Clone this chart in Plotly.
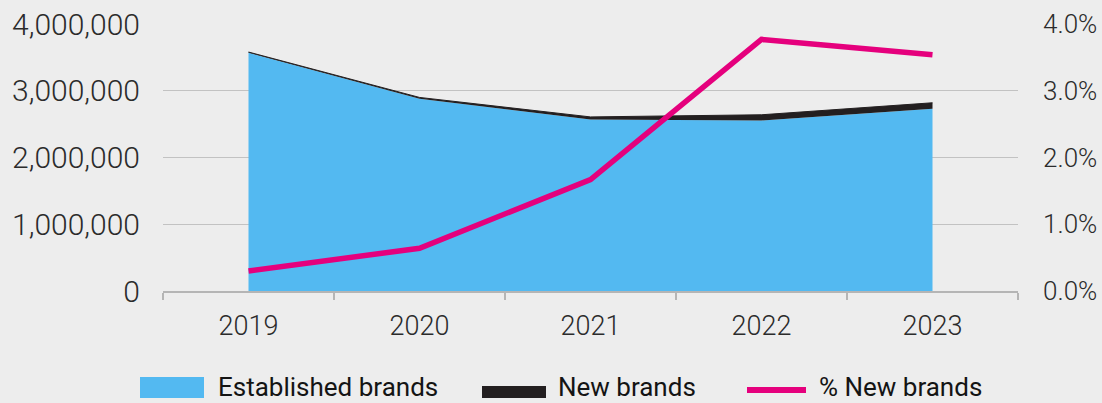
import plotly.graph_objects as go

years = ["2019", "2020", "2021", "2022", "2023"]
established = [3569000, 2881000, 2568000, 2555000, 2730000]
new_brands = [11000, 19000, 40000, 85000, 90000]
pct_new = [0.0030, 0.0064, 0.0167, 0.0377, 0.0354]

left_ticks = [0, 1000000, 2000000, 3000000, 4000000]
left_labels = ["0", "1,000,000", "2,000,000", "3,000,000", "4,000,000"]
right_ticks = [0, 0.01, 0.02, 0.03, 0.04]
right_labels = ["0.0%", "1.0%", "2.0%", "3.0%", "4.0%"]
legend_names = ["Established brands", "New brands", "% New brands"]

BLUE = "#53b9f1"
BLACK = "#231f20"
MAGENTA = "#e5007d"
BG = "#ededed"
GRID = "#c2c2c2"
TXT = "#2b2b2b"
FONT = "Roboto"

W, H = 1102, 403
ML, MR, MT, MB = 163, 84, 24, 112
PW, PH = W - ML - MR, H - MT - MB


def px_x(x):
    return (x - ML) / PW


def px_y(y):
    return (H - MB - y) / PH


fig = go.Figure()
fig.add_trace(go.Scatter(x=years, y=established, stackgroup="s", mode="lines",
                         line=dict(width=0, color=BLUE), fillcolor=BLUE,
                         showlegend=False, name=legend_names[0]))
fig.add_trace(go.Scatter(x=years, y=new_brands, stackgroup="s", mode="lines",
                         line=dict(width=1, color=BLACK), fillcolor=BLACK,
                         showlegend=False, name=legend_names[1]))
fig.add_trace(go.Scatter(x=years, y=pct_new, yaxis="y2", mode="lines",
                         line=dict(width=5.5, color=MAGENTA),
                         showlegend=False, name=legend_names[2]))

# manual legend (symbols + labels)
shapes = [
    dict(type="rect", xref="paper", yref="paper", x0=px_x(140), x1=px_x(204),
         y0=px_y(377), y1=px_y(398), fillcolor=BLUE, line=dict(width=0)),
    dict(type="rect", xref="paper", yref="paper", x0=px_x(482), x1=px_x(546),
         y0=px_y(386), y1=px_y(398), fillcolor=BLACK, line=dict(width=0)),
    dict(type="line", xref="paper", yref="paper", x0=px_x(747), x1=px_x(806),
         y0=px_y(390), y1=px_y(390), line=dict(width=6, color=MAGENTA)),
]
annotations = []
for name, xl in zip(legend_names, [216, 556, 817]):
    annotations.append(dict(text=name, xref="paper", yref="paper", x=px_x(xl), y=px_y(387),
                            xanchor="left", yanchor="middle", showarrow=False,
                            font=dict(family=FONT, size=26, color="#141414")))

fig.update_layout(
    width=W, height=H,
    margin=dict(l=ML, r=MR, t=MT, b=MB),
    paper_bgcolor=BG, plot_bgcolor=BG,
    font=dict(family=FONT, size=26, color=TXT),
    showlegend=False,
    shapes=shapes,
    annotations=annotations,
    xaxis=dict(type="category", range=[-0.5, 4.5], tickson="boundaries",
               ticks="outside", ticklen=7, tickcolor="#b5b5b5", tickwidth=1.5,
               showline=True, linecolor="#b5b5b5", linewidth=1.5,
               showgrid=False, ticklabelstandoff=10, automargin=False,
               tickfont=dict(family=FONT, size=27, color=TXT, weight=300)),
    yaxis=dict(range=[0, 4000000], tickvals=left_ticks, ticktext=left_labels,
               showgrid=True, gridcolor=GRID, gridwidth=1, zeroline=False,
               ticks="", ticklabelstandoff=22, automargin=False,
               tickfont=dict(family=FONT, size=30, color=TXT, weight=300)),
    yaxis2=dict(range=[0, 0.04], tickvals=right_ticks, ticktext=right_labels,
                overlaying="y", side="right", showgrid=False, zeroline=False,
                ticks="", ticklabelstandoff=24, automargin=False,
                tickfont=dict(family=FONT, size=26, color=TXT, weight=300)),
)

fig.write_html("out.html", config={"displayModeBar": False},
               post_script="document.body.style.margin='0';document.body.style.background='%s';" % BG)
